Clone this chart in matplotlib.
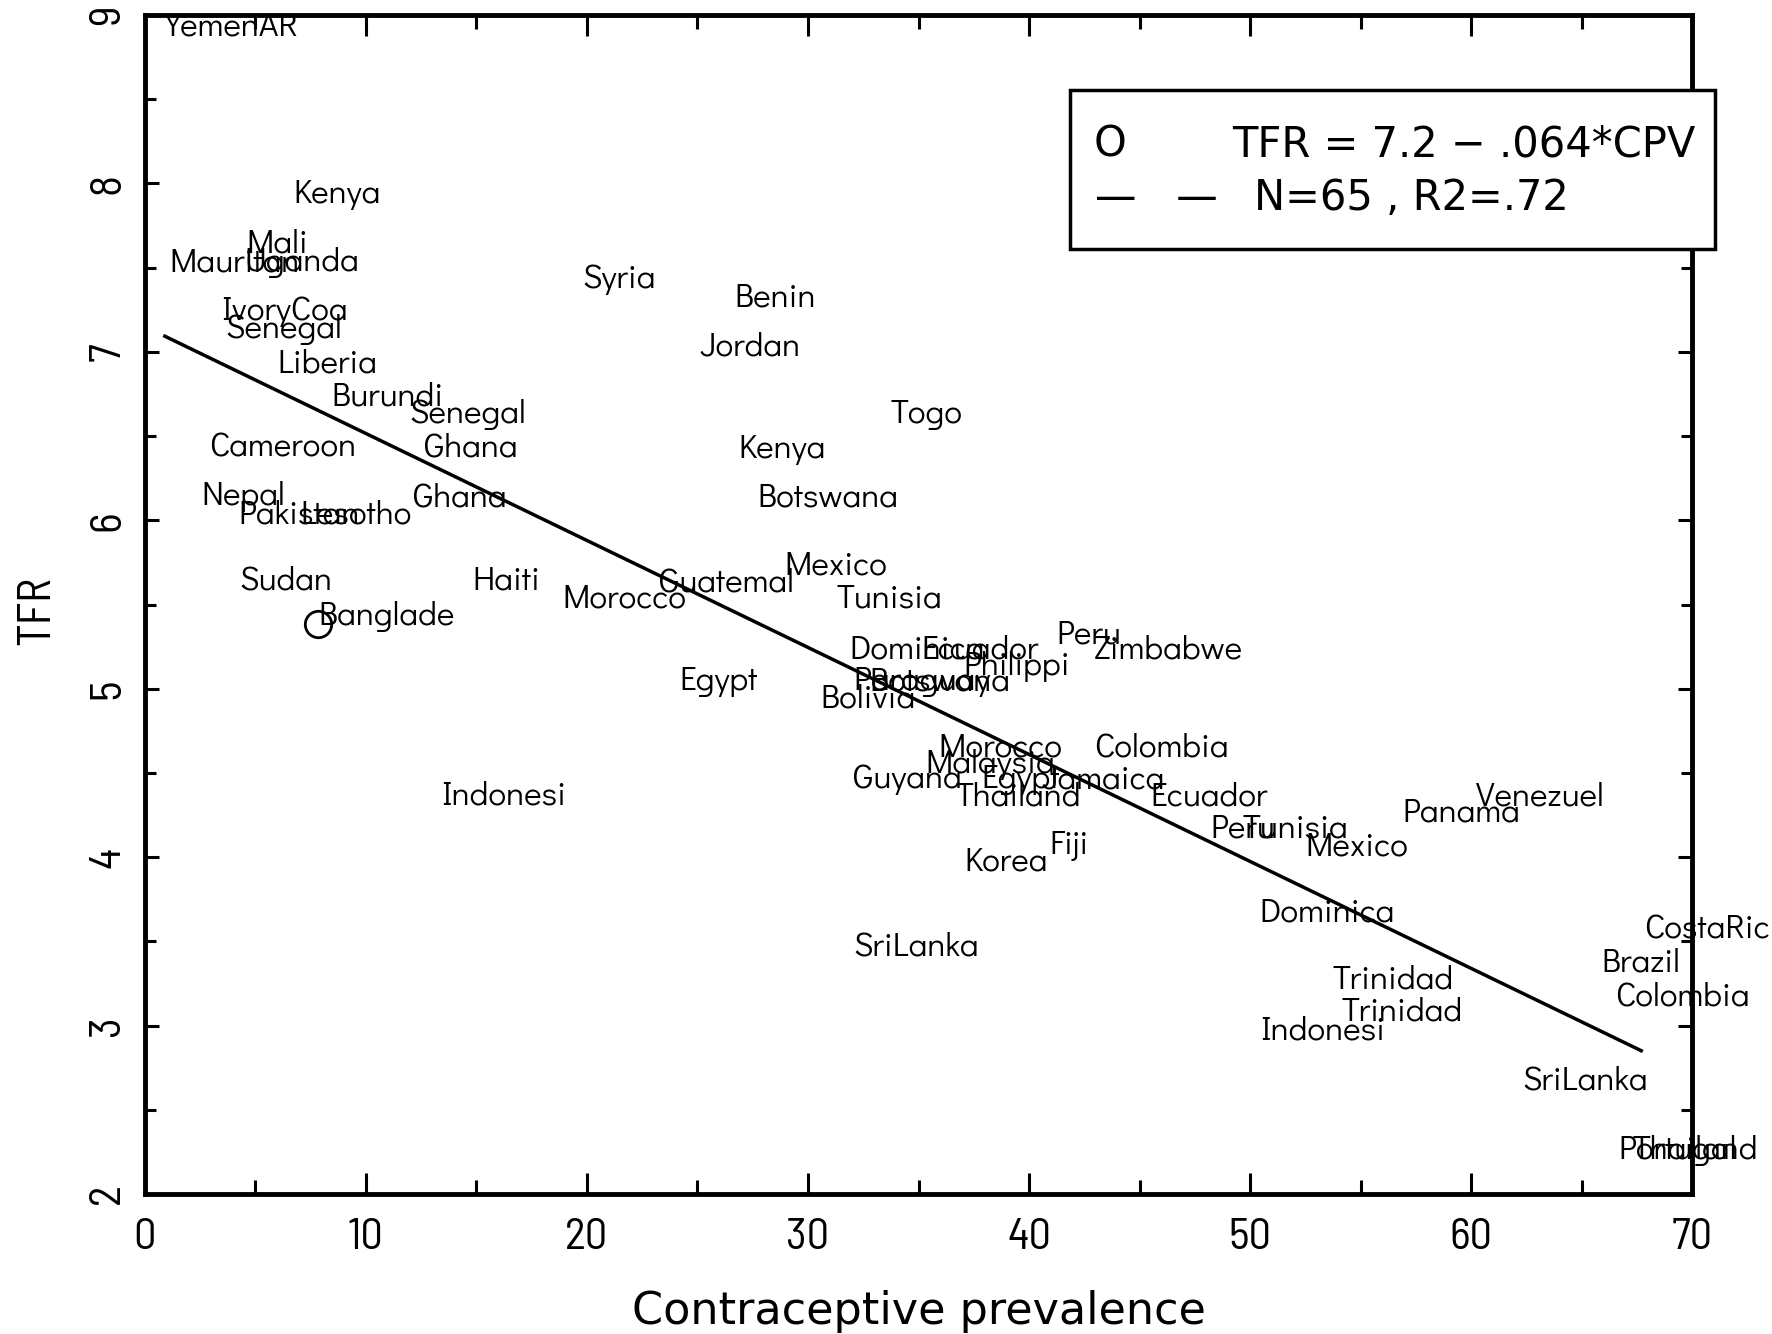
import matplotlib
matplotlib.use("Agg")
import matplotlib.pyplot as plt
from matplotlib.patches import Rectangle
from matplotlib.ticker import MultipleLocator

# ---- data (label, contraceptive prevalence, TFR) ----
countries = ["YemenAR", "Kenya", "Mali", "Mauritan", "Uganda", "IvoryCoa", "Senegal", "Liberia",
             "Burundi", "Senegal", "Cameroon", "Ghana", "Nepal", "Pakistan", "Lesotho", "Ghana",
             "Sudan", "Haiti", "Banglade", "Indonesi", "Syria", "Benin", "Jordan", "Togo",
             "Kenya", "Botswana", "Mexico", "Guatemal", "Morocco", "Tunisia", "Egypt", "Dominica",
             "Ecuador", "Peru", "Zimbabwe", "Philippi", "Paraguay", "Botswana", "Bolivia",
             "Morocco", "Malaysia", "Colombia", "Guyana", "Egypt", "Jamaica", "Thailand",
             "Ecuador", "Peru", "Tunisia", "Mexico", "Fiji", "Korea", "Panama", "Venezuel",
             "Dominica", "SriLanka", "Trinidad", "Trinidad", "Indonesi", "SriLanka", "CostaRic",
             "Brazil", "Colombia", "Portugal", "Thailand"]
cpv = [3.89, 8.70, 5.99, 4.04, 7.11, 6.29, 6.29, 8.24,
       10.95, 14.59, 6.24, 14.74, 4.45, 6.96, 9.57, 14.23,
       6.40, 16.33, 10.95, 16.22, 21.44, 28.51, 27.38, 35.36,
       28.81, 30.91, 31.27, 26.30, 21.70, 33.67, 25.95, 34.95,
       37.77, 42.68, 46.31, 39.46, 35.16, 35.98, 32.73,
       38.69, 38.23, 46.01, 34.49, 39.61, 43.35, 39.51,
       48.16, 49.69, 52.05, 54.81, 41.81, 38.95, 59.57, 63.10,
       53.48, 34.90, 56.45, 56.86, 53.28, 65.15, 70.68,
       67.66, 69.55, 69.35, 70.16]
tfr = [8.93, 7.935, 7.64, 7.53, 7.53, 7.24, 7.13, 6.93,
       6.73, 6.63, 6.43, 6.43, 6.14, 6.03, 6.03, 6.13,
       5.64, 5.64, 5.43, 4.365, 7.43, 7.32, 7.03, 6.63,
       6.42, 6.13, 5.73, 5.63, 5.53, 5.53, 5.04, 5.23,
       5.23, 5.32, 5.23, 5.13, 5.04, 5.04, 4.94,
       4.65, 4.55, 4.65, 4.46, 4.46, 4.46, 4.36,
       4.36, 4.17, 4.17, 4.06, 4.07, 3.97, 4.26, 4.36,
       3.67, 3.465, 3.27, 3.08, 2.97, 2.67, 3.57,
       3.37, 3.17, 2.26, 2.26]

marker_point = (7.83, 5.385)
fit_x = [0.9, 67.7]
intercept, slope = 7.15, -0.0635
legend_lines = ["TFR = 7.2 \u2212 .064*CPV", "N=65 , R2=.72"]

label_font = ["Didact Gothic", "DejaVu Sans"]
narrow = ["Barlow Semi Condensed", "DejaVu Sans"]

fig = plt.figure(figsize=(17.72, 13.34), dpi=100)
ax = fig.add_axes([0.0818, 0.1049, 0.8731, 0.8839])
ax.set_xlim(0, 70)
ax.set_ylim(2, 9)

for name, x, y in zip(countries, cpv, tfr):
    clip = y > 8.9
    ax.text(x, y, name, ha="center", va="center", fontsize=24,
            family=label_font, clip_on=clip)

ax.plot([marker_point[0]], [marker_point[1]], marker="o", ms=19, mfc="none",
        mec="black", mew=2)

fy = [intercept + slope * v for v in fit_x]
ax.plot(fit_x, fy, color="black", lw=2.5)

for s in ax.spines.values():
    s.set_linewidth(3.5)

ax.xaxis.set_major_locator(MultipleLocator(10))
ax.xaxis.set_minor_locator(MultipleLocator(5))
ax.yaxis.set_major_locator(MultipleLocator(1))
ax.yaxis.set_minor_locator(MultipleLocator(0.5))
ax.tick_params(axis="both", which="both", direction="in", top=True, right=True, width=2.2)
ax.tick_params(axis="x", which="major", length=15, pad=17)
ax.tick_params(axis="x", which="minor", length=10)
ax.tick_params(axis="y", which="major", length=10, pad=12)
ax.tick_params(axis="y", which="minor", length=8)
for lab in ax.get_xticklabels():
    lab.set_family(narrow)
    lab.set_fontsize(32)
for lab in ax.get_yticklabels():
    lab.set_family(narrow)
    lab.set_fontsize(32)
    lab.set_rotation(90)
    lab.set_va("center")

ax.set_xlabel("Contraceptive prevalence", family="DejaVu Sans", fontsize=32, va="center")
ax.xaxis.set_label_coords(0.5, -0.0992)
ax.set_ylabel("TFR", family=narrow, fontsize=33, va="center")
ax.yaxis.set_label_coords(-0.0698, 0.495)

# legend box
ax.add_patch(Rectangle((0.598, 0.8015), 0.4169, 0.1349, transform=ax.transAxes,
                       fill=True, facecolor="white", edgecolor="black", lw=2.5,
                       clip_on=False, zorder=5))
ax.text(0.624, 0.8897, "O", transform=ax.transAxes, ha="center", va="center",
        family="DejaVu Sans", fontsize=30, zorder=6)
ax.text(0.7027, 0.8897, legend_lines[0], transform=ax.transAxes, ha="left", va="center",
        family="DejaVu Sans", fontsize=30, zorder=6)
ax.text(0.6535, 0.8448, "\u2014   \u2014", transform=ax.transAxes, ha="center", va="center",
        family="DejaVu Sans", fontsize=30, zorder=6)
ax.text(0.717, 0.8448, legend_lines[1], transform=ax.transAxes, ha="left", va="center",
        family="DejaVu Sans", fontsize=30, zorder=6)

fig.savefig("out.png", dpi=100)
